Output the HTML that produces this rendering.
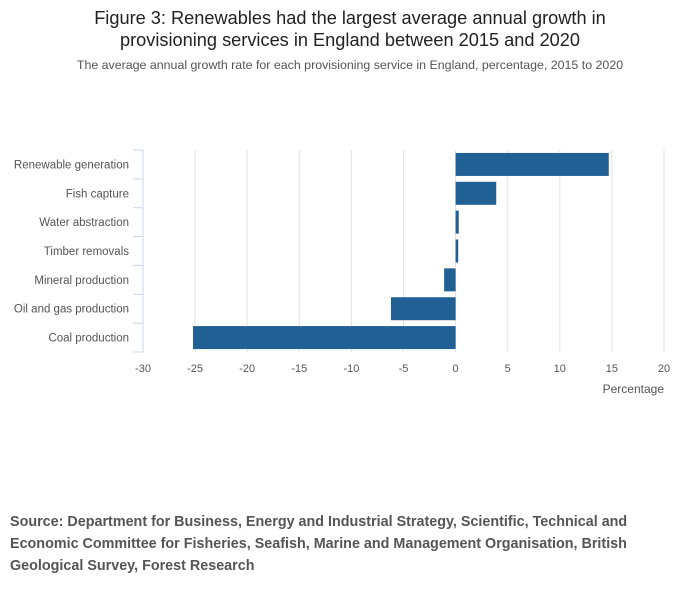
<!DOCTYPE html>
<html><head><meta charset="utf-8"><style>
body{margin:0;background:#fff;font-family:"Liberation Sans",sans-serif;}
</style></head><body>
<svg width="700" height="599" id="c" font-family="Liberation Sans, sans-serif">
<text x="350" y="24" text-anchor="middle" font-size="18.2" fill="#222">Figure 3: Renewables had the largest average annual growth in</text>
<text x="350" y="46" text-anchor="middle" font-size="18.2" fill="#222">provisioning services in England between 2015 and 2020</text>
<text x="350" y="69" text-anchor="middle" font-size="12.4" fill="#555">The average annual growth rate for each provisioning service in England, percentage, 2015 to 2020</text>
<g id="grid"></g><g id="bars"></g><g id="yaxis"></g><g id="xaxis"></g>
<text x="664" y="393" text-anchor="end" font-size="12" fill="#555">Percentage</text>
<text x="10" y="526" font-size="14.35" font-weight="bold" fill="#555">Source: Department for Business, Energy and Industrial Strategy, Scientific, Technical and</text>
<text x="10" y="548" font-size="14.35" font-weight="bold" fill="#555">Economic Committee for Fisheries, Seafish, Marine and Management Organisation, British</text>
<text x="10" y="570" font-size="14.35" font-weight="bold" fill="#555">Geological Survey, Forest Research</text>
</svg>
<script>
const categories=["Renewable generation","Fish capture","Water abstraction","Timber removals","Mineral production","Oil and gas production","Coal production"];
const values=[14.7,3.9,0.3,0.25,-1.1,-6.2,-25.2];
const ticks=[-30,-25,-20,-15,-10,-5,0,5,10,15,20];
const NS="http://www.w3.org/2000/svg";
const x0=143,x1=664,yTop=150,yBot=352;
const xs=v=>x0+(v+30)/50*(x1-x0);
const band=(yBot-yTop)/categories.length;
function mk(t,a,p){const e=document.createElementNS(NS,t);for(const k in a)e.setAttribute(k,a[k]);p.appendChild(e);return e;}
const g=document.getElementById('grid'),b=document.getElementById('bars'),ya=document.getElementById('yaxis'),xa=document.getElementById('xaxis');
ticks.forEach(t=>{
 if(t>-30){const l=mk('line',{x1:xs(t),x2:xs(t),y1:yTop,y2:yBot,stroke:'#e3e3e3'},g);
 
 }
 const tx=mk('text',{x:xs(t),y:372,'text-anchor':'middle','font-size':11,fill:'#555'},xa);tx.textContent=t;
 
 
});
const ax=mk('line',{x1:x0,x2:x0,y1:yTop,y2:yBot,stroke:'#ccd6eb'},ya);


for(let i=0;i<=categories.length;i++){const tk=mk('line',{x1:x0-10,x2:x0,y1:yTop+i*band,y2:yTop+i*band,stroke:'#ccd6eb'},ya);
 
 }
categories.forEach((c,i)=>{
 const cy=yTop+band*(i+0.5);
 const t=mk('text',{x:129,y:cy+4,'text-anchor':'end','font-size':11.5,fill:'#555'},ya);t.textContent=c;
 
 
 const v=values[i],a=xs(Math.min(0,v)),w=Math.abs(xs(v)-xs(0));
 const r=mk('rect',{x:a,y:cy-11.5,width:w,height:23,fill:'#206095'},b);
 
 
});
</script>
</body></html>
